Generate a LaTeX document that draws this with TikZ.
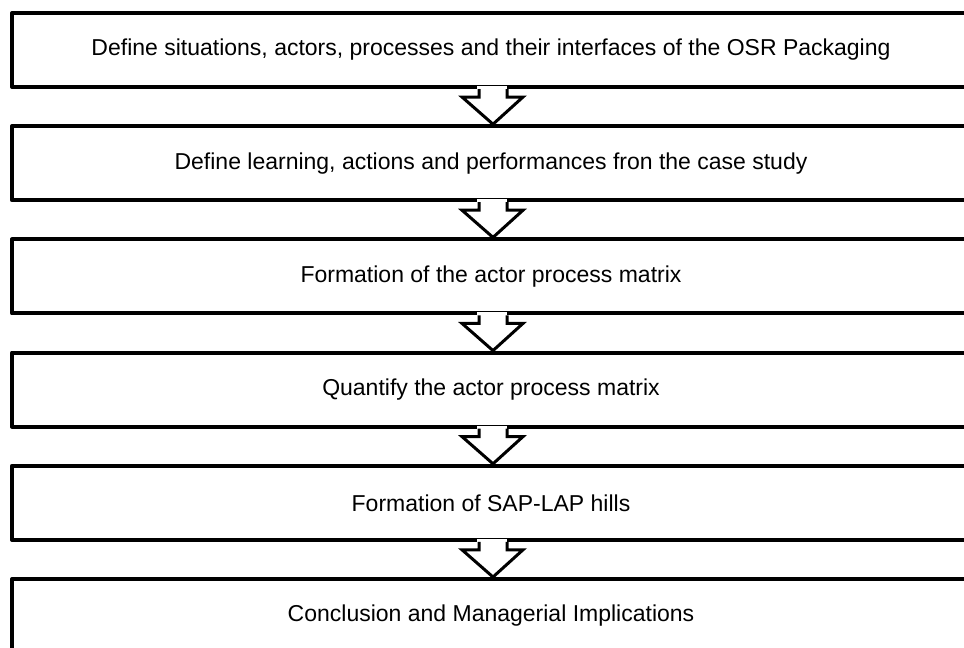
\documentclass[tikz,border=0pt]{standalone}
\usepackage{fontspec}
\setmainfont{Liberation Sans}
\usetikzlibrary{calc}

\begin{document}
\begin{tikzpicture}[x=1pt, y=-1pt,
    stage/.style ={rectangle, draw, line width=4pt, line join=round,
                   minimum width=958pt, minimum height=74pt, inner sep=0pt,
                   font=\fontsize{23}{27}\selectfont},
    flow/.style ={line width=3pt, line join=miter}]
   \useasboundingbox (0,0) rectangle (964,648);
   \clip (0,0) rectangle (964,648);
   \node[stage] (s1) at (491,50)    {Define situations, actors, processes and their interfaces of the OSR Packaging};
   \node[stage] (s2) at (491,163.2) {Define learning, actions and performances fron the case study};
   \node[stage] (s3) at (491,276.4) {Formation of the actor process matrix};
   \node[stage] (s4) at (491,389.6) {Quantify the actor process matrix};
   \node[stage] (s5) at (491,502.8) {Formation of SAP-LAP hills};
   \node[stage] (s6) at (491,616)   {Conclusion and Managerial Implications};
   % block arrows between the stages
   \foreach \a/\b in {s1/s2, s2/s3, s3/s4, s4/s5, s5/s6}{
     \fill[white] ($(\a.south)+(-14,-3)$) rectangle ($(\a.south)+(16,8)$);
     \draw[flow] ($(\a.south)+(-12,0)$) -- ++(0,8) -- ++(-17,0)
        -- ($(\b.north)+(2,0)$) -- ($(\a.south)+(32,8)$) -- ++(-16,0) -- ++(0,-8);
   }
 \end{tikzpicture}
\end{document}
